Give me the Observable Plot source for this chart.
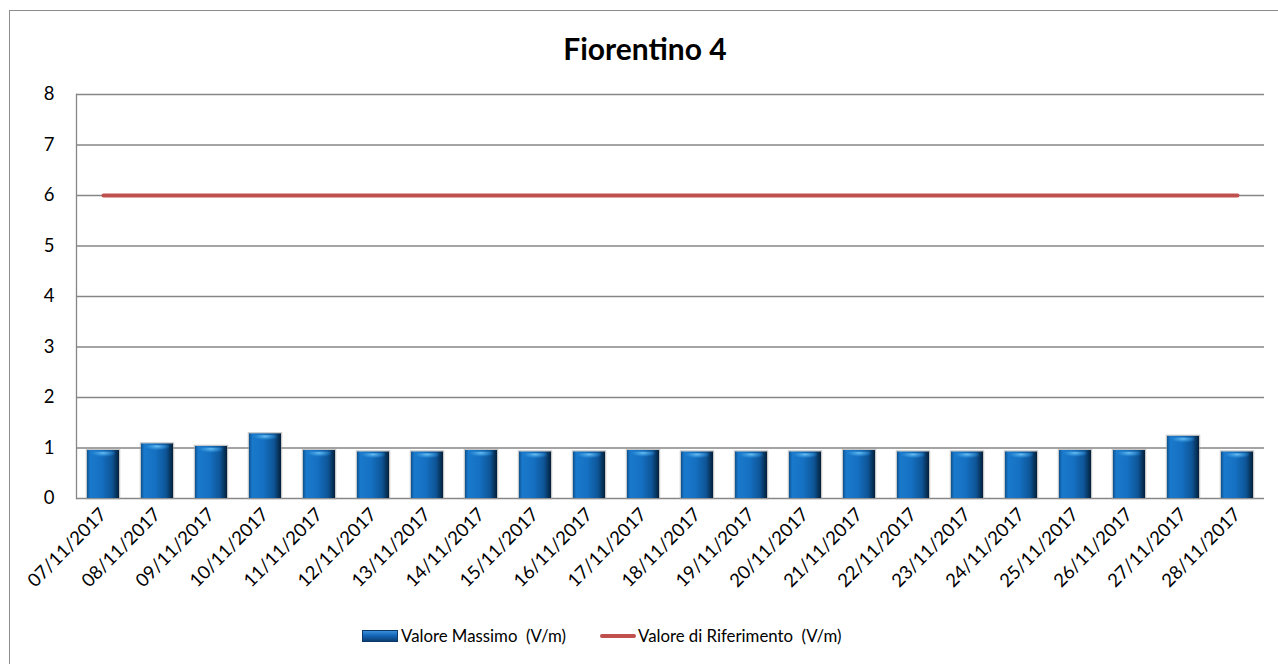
<!DOCTYPE html>
<html>
<head>
<meta charset="utf-8">
<script src="https://cdn.jsdelivr.net/npm/d3@7"></script>
<script src="https://cdn.jsdelivr.net/npm/@observablehq/plot@0.6"></script>
<style>
  html, body { margin: 0; padding: 0; background: #fff; overflow: hidden; }
  body { width: 1278px; height: 664px; position: relative; font-family: Lato, "Open Sans", sans-serif; }
  #frame { position: absolute; left: 9px; top: 10px; width: 1300px; height: 700px; border: 1px solid #8c8c8c; box-sizing: border-box; }
  #title { position: absolute; left: 0; width: 1290px; top: 30px; text-align: center; font-weight: bold; font-size: 30px; color: #000; }
  #chart { position: absolute; left: 0; top: 0; }
  .leg { position: absolute; top: 625px; display: flex; align-items: center; font-size: 16.8px; color: #000; white-space: pre; }
  .sw-bar { width: 36px; height: 12px; background: linear-gradient(#3b8fd8, #1466b8 45%, #0b3f73); border: 1px solid #0a3a6a; box-sizing: border-box; margin-right: 3px; }
  .sw-line { width: 36px; height: 4px; background: #c0504d; border-radius: 2px; margin-right: 2px; }
</style>
</head>
<body>
<div id="frame"></div>
<div id="title">Fiorentino 4</div>
<div id="chart"></div>
<div class="leg" style="left:362px"><span class="sw-bar"></span><span>Valore Massimo  (V/m)</span></div>
<div class="leg" style="left:600px"><span class="sw-line"></span><span>Valore di Riferimento  (V/m)</span></div>
<script>
// Daily measurement dates
const dates = [
  "07/11/2017", "08/11/2017", "09/11/2017", "10/11/2017", "11/11/2017", "12/11/2017",
  "13/11/2017", "14/11/2017", "15/11/2017", "16/11/2017", "17/11/2017", "18/11/2017",
  "19/11/2017", "20/11/2017", "21/11/2017", "22/11/2017", "23/11/2017", "24/11/2017",
  "25/11/2017", "26/11/2017", "27/11/2017", "28/11/2017"
];
// Maximum field value of the day (V/m)
const maxValues = [
  0.95, 1.08, 1.03, 1.28, 0.95, 0.92,
  0.92, 0.95, 0.92, 0.92, 0.95, 0.92,
  0.92, 0.92, 0.95, 0.92, 0.92, 0.92,
  0.95, 0.95, 1.23, 0.92
];
// Reference limit (V/m)
const referenceValue = 6;
const yTicks = [0, 1, 2, 3, 4, 5, 6, 7, 8];

const rows = dates.map((d, i) => ({date: d, value: maxValues[i], ref: referenceValue}));

const plot = Plot.plot({
  width: 1278,
  height: 610,
  marginTop: 94,
  marginBottom: 112,
  marginLeft: 76,
  marginRight: 14,
  style: {background: "transparent", fontFamily: "Lato, 'Open Sans', sans-serif", fontSize: "18.5px", color: "#000", overflow: "visible"},
  x: {domain: dates, paddingInner: 0.41, paddingOuter: 0.205, label: null, tickSize: 0, tickPadding: 13, tickRotate: -45},
  y: {domain: [0, 8], ticks: yTicks, label: null, tickSize: 0, tickPadding: 22, tickFormat: d3.format("d")},
  marks: [
    Plot.gridY(yTicks, {stroke: "#868686", strokeOpacity: 1, strokeWidth: 1.3}),
    Plot.frame({anchor: "left", stroke: "#868686", strokeWidth: 1.3}),
    // soft shadow around each column
    Plot.barY(rows, {x: "date", y: "value", fill: "none", stroke: "#9a9a9a", strokeWidth: 2.5, strokeOpacity: 0.55}),
    Plot.barY(rows, {x: "date", y: "value", fill: "url(#colGrad)"}),
    // glossy highlight near the top of each column
    Plot.barY(rows, {x: "date", y1: d => d.value - 0.17, y2: d => d.value - 0.03, fill: "url(#capGrad)", insetLeft: 4, insetRight: 4}),
    Plot.lineY(rows, {x: "date", y: "ref", stroke: "#c0504d", strokeWidth: 4, strokeLinecap: "round"})
  ]
});

// gradients used by the columns
const defs = d3.create("svg:defs");
const g1 = defs.append("linearGradient").attr("id", "colGrad").attr("x1", 0).attr("x2", 1).attr("y1", 0).attr("y2", 0);
[["0%", "#0c528f"], ["10%", "#1a79cc"], ["45%", "#1570c2"], ["78%", "#0e5597"], ["100%", "#04203a"]]
  .forEach(([o, c]) => g1.append("stop").attr("offset", o).attr("stop-color", c));
const g2 = defs.append("radialGradient").attr("id", "capGrad").attr("cx", "50%").attr("cy", "20%").attr("r", "60%");
[["0%", "#6ec3f5", 0.95], ["60%", "#3a9be0", 0.5], ["100%", "#1570c2", 0]]
  .forEach(([o, c, a]) => g2.append("stop").attr("offset", o).attr("stop-color", c).attr("stop-opacity", a));
plot.insertBefore(defs.node(), plot.firstChild);

document.getElementById("chart").appendChild(plot);
</script>
</body>
</html>
